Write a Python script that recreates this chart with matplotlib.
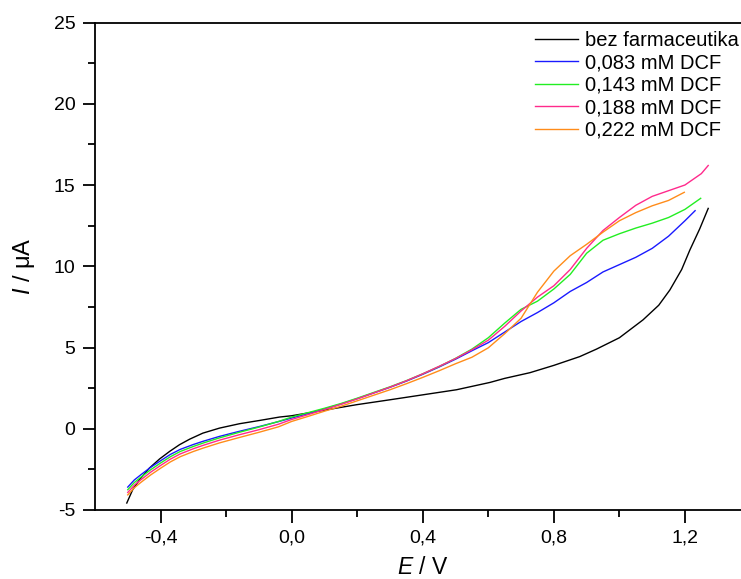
import matplotlib
matplotlib.use("Agg")
import matplotlib.pyplot as plt
from matplotlib.ticker import MultipleLocator, FixedLocator, FuncFormatter

plt.rcParams['font.family'] = ['Liberation Sans', 'DejaVu Sans']
plt.rcParams['mathtext.fontset'] = 'custom'
plt.rcParams['mathtext.rm'] = 'Liberation Sans'
plt.rcParams['mathtext.it'] = 'Liberation Sans:italic'

labels = ["bez farmaceutika", "0,083 mM DCF", "0,143 mM DCF", "0,188 mM DCF", "0,222 mM DCF"]
colors = ["#000000", "#1a1aff", "#22ee22", "#ff2a8c", "#ff8c1a"]

E_black = [-0.503, -0.485, -0.464, -0.434, -0.403, -0.372, -0.342, -0.311, -0.271, -0.22,
           -0.159, -0.098, -0.037, 0.0, 0.096, 0.198, 0.299, 0.401, 0.503, 0.605, 0.65,
           0.727, 0.8, 0.879, 0.93, 1.0, 1.072, 1.12, 1.154, 1.19, 1.215, 1.245, 1.271]
I_black = [-4.57, -3.75, -3.13, -2.42, -1.86, -1.39, -0.98, -0.64, -0.27, 0.04,
           0.31, 0.51, 0.72, 0.8, 1.13, 1.48, 1.78, 2.09, 2.4, 2.85, 3.1,
           3.45, 3.9, 4.44, 4.9, 5.6, 6.7, 7.6, 8.54, 9.8, 11.0, 12.3, 13.56]

E_common = [-0.5, -0.48, -0.46, -0.43, -0.4, -0.37, -0.34, -0.3, -0.27, -0.22, -0.16, -0.1,
            -0.04, 0.0, 0.05, 0.1, 0.15, 0.2, 0.25, 0.3, 0.35, 0.4, 0.45, 0.5, 0.55, 0.6,
            0.65, 0.7, 0.75, 0.8, 0.85, 0.9, 0.95, 1.0, 1.05, 1.1, 1.15, 1.2]

I_blue = [-3.59, -3.15, -2.83, -2.37, -1.97, -1.58, -1.27, -0.97, -0.77, -0.47, -0.16, 0.13,
          0.44, 0.66, 0.93, 1.22, 1.52, 1.85, 2.2, 2.55, 2.93, 3.35, 3.8, 4.28, 4.8, 5.3,
          5.95, 6.6, 7.15, 7.75, 8.45, 9.0, 9.65, 10.1, 10.55, 11.1, 11.85, 12.8]
E_blue_end = [1.231]
I_blue_end = [13.42]

I_green = [-3.75, -3.31, -2.98, -2.52, -2.11, -1.72, -1.4, -1.09, -0.88, -0.56, -0.22, 0.1,
           0.45, 0.72, 0.99, 1.26, 1.55, 1.88, 2.23, 2.58, 2.96, 3.38, 3.83, 4.33, 4.9, 5.6,
           6.5, 7.35, 7.85, 8.6, 9.5, 10.8, 11.6, 12.0, 12.35, 12.65, 13.0, 13.5]
E_green_end = [1.248]
I_green_end = [14.18]

I_magenta = [-3.92, -3.47, -3.14, -2.67, -2.26, -1.87, -1.55, -1.23, -1.02, -0.7, -0.37, -0.06,
             0.28, 0.57, 0.87, 1.18, 1.5, 1.84, 2.2, 2.56, 2.95, 3.38, 3.84, 4.32, 4.86, 5.45,
             6.3, 7.25, 8.1, 8.8, 9.8, 11.1, 12.2, 13.0, 13.75, 14.3, 14.65, 15.0]
E_magenta_end = [1.25, 1.271]
I_magenta_end = [15.7, 16.2]

I_orange = [-4.07, -3.63, -3.3, -2.84, -2.43, -2.04, -1.72, -1.4, -1.19, -0.87, -0.54, -0.22,
            0.12, 0.45, 0.76, 1.08, 1.38, 1.72, 2.06, 2.4, 2.77, 3.16, 3.57, 4.0, 4.4, 4.98,
            5.85, 6.8, 8.4, 9.7, 10.65, 11.35, 12.1, 12.8, 13.3, 13.72, 14.05]
E_orange_end = [1.198]
I_orange_end = [14.55]

series = [
    (E_black, I_black),
    (E_common + E_blue_end, I_blue + I_blue_end),
    (E_common + E_green_end, I_green + I_green_end),
    (E_common + E_magenta_end, I_magenta + I_magenta_end),
    (E_common[:-1] + E_orange_end, I_orange + I_orange_end),
]

fig = plt.figure(figsize=(7.41, 5.79), dpi=100)
ax = fig.add_axes([95/741, 69/579, (750.5-95)/741, (510-22.5)/579])

for (x, y), c, lab in zip(series, colors, labels):
    ax.plot(x, y, color=c, lw=1.0, label=lab)

ax.set_xlim(-0.6, 1.4)
ax.set_ylim(-5, 25)
ax.xaxis.set_major_locator(FixedLocator([-0.4, 0.0, 0.4, 0.8, 1.2]))
ax.xaxis.set_minor_locator(FixedLocator([-0.2, 0.2, 0.6, 1.0]))
ax.yaxis.set_major_locator(MultipleLocator(5))
ax.yaxis.set_minor_locator(FixedLocator([-2.5, 2.5, 7.5, 12.5, 17.5, 22.5]))
ax.xaxis.set_major_formatter(FuncFormatter(lambda v, p: f"{v:.1f}".replace('.', ',').replace('-0,0', '0,0')))
ax.yaxis.set_major_formatter(FuncFormatter(lambda v, p: f"{v:.0f}"))

ax.tick_params(which='major', direction='out', length=9, width=1.3, labelsize=14, pad=5,
               right=False, top=False)
ax.tick_params(which='minor', direction='out', length=5, width=1.3, right=False, top=False)
for s in ax.spines.values():
    s.set_linewidth(1.3)

ax.set_xlabel(r"$\mathit{E}$ / V", fontsize=16.5, labelpad=7)
ax.set_ylabel(r"$\mathit{I}$ / μA", fontsize=17, labelpad=12)

leg = fig.legend(loc='upper left', bbox_to_anchor=(535/741, 1 - 31/579), frameon=False,
                 fontsize=14.5, handlelength=2.15, handletextpad=0.35, labelspacing=0.17,
                 borderpad=0, borderaxespad=0)

fig.savefig("out.png", dpi=100)
